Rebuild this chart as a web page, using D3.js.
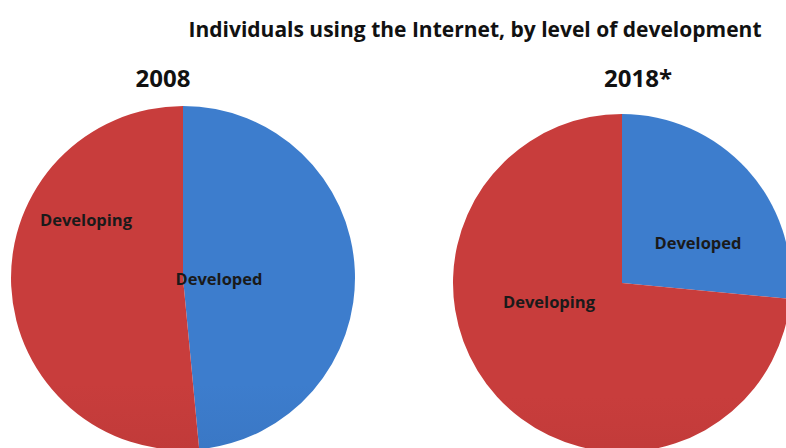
<!DOCTYPE html>
<html>
<head>
<meta charset="utf-8">
<script src="https://cdn.jsdelivr.net/npm/d3@7"></script>
<style>
html,body{margin:0;padding:0;background:#fff;}
svg{display:block;}
text{font-family:"Open Sans","Liberation Sans",sans-serif;font-weight:bold;fill:#111;}
</style>
</head>
<body>
<svg id="chart" width="786" height="448"></svg>
<script>
const title = "Individuals using the Internet, by level of development";
const years = ["2008", "2018*"];
const categories = ["Developed", "Developing"];
const developedShare = [48.5, 26.5];
const developingShare = [51.5, 73.5];

const W = 786, H = 448;
const svg = d3.select("#chart");

const defs = svg.append("defs");
const colorStops = {
  Developed: ["#3d7dcd", "#2d60a4"],
  Developing: ["#c83d3c", "#a32f2e"]
};

svg.append("text")
  .attr("x", 475).attr("y", 37)
  .attr("text-anchor", "middle")
  .style("font-size", "21px")
  .text(title);

const layout = [
  {cx: 183, cy: 278, r: 172, titleX: 163, titleY: 87,
   labels: {Developing: [-97, -56], Developed: [36, 3]}},
  {cx: 622, cy: 283, r: 169, titleX: 638, titleY: 87,
   labels: {Developed: [76, -38], Developing: [-73, 21]}}
];

const pie = d3.pie().sort(null).value(d => d.value);
const arc = d3.arc().innerRadius(0);

years.forEach((yr, i) => {
  const L = layout[i];
  const data = categories.map((c, k) => ({
    cat: c,
    value: k === 0 ? developedShare[i] : developingShare[i]
  }));
  categories.forEach(c => {
    const g = defs.append("linearGradient")
      .attr("id", `g-${i}-${c}`)
      .attr("gradientUnits", "userSpaceOnUse")
      .attr("x1", 0).attr("y1", L.cy - L.r)
      .attr("x2", 0).attr("y2", L.cy + L.r);
    g.append("stop").attr("offset", "0%").attr("stop-color", colorStops[c][0]);
    g.append("stop").attr("offset", "100%").attr("stop-color", colorStops[c][1]);
  });

  const grp = svg.append("g").attr("transform", `translate(${L.cx},${L.cy})`);
  grp.selectAll("path")
    .data(pie(data))
    .join("path")
    .attr("d", d => arc.outerRadius(L.r)(d))
    .attr("fill", d => `url(#g-${i}-${d.data.cat})`);

  grp.selectAll("text.lbl")
    .data(pie(data))
    .join("text")
    .attr("class", "lbl")
    .attr("x", d => L.labels[d.data.cat][0])
    .attr("y", d => L.labels[d.data.cat][1])
    .attr("text-anchor", "middle")
    .attr("dominant-baseline", "middle")
    .style("font-size", "16.5px")
    .style("fill", "#1a1a1a")
    .text(d => d.data.cat);

  svg.append("text")
    .attr("x", L.titleX).attr("y", L.titleY)
    .attr("text-anchor", "middle")
    .style("font-size", "24px")
    .text(yr);
});
</script>
</body>
</html>
